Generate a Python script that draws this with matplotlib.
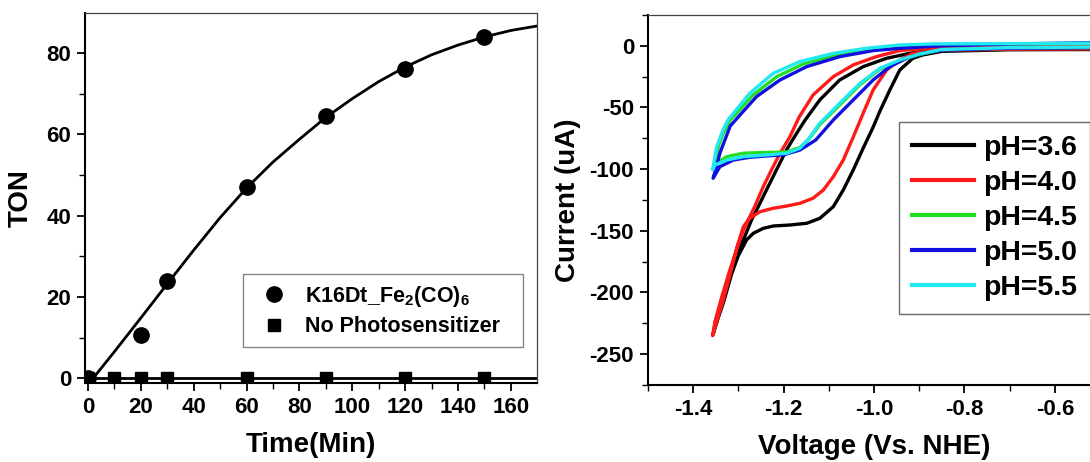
import matplotlib
matplotlib.use("Agg")
import matplotlib.pyplot as plt
from matplotlib.ticker import MultipleLocator

plt.rcParams['font.family'] = ['Liberation Sans', 'DejaVu Sans']
plt.rcParams['font.weight'] = 'bold'
plt.rcParams['axes.unicode_minus'] = False
plt.rcParams['mathtext.fontset'] = 'custom'
plt.rcParams['mathtext.rm'] = 'Liberation Sans:bold'
plt.rcParams['mathtext.bf'] = 'Liberation Sans:bold'
plt.rcParams['mathtext.default'] = 'bf'

# TON vs irradiation time
time_pts = [0, 20, 30, 60, 90, 120, 150]
ton_pts = [0, 10.5, 24, 47, 64.5, 76, 84]
time_ctrl = [0, 10, 20, 30, 60, 90, 120, 150]
ton_ctrl = [0, 0, 0, 0, 0, 0, 0, 0]
# fitted curve, read every 10 min
fit_time = [2, 10, 20, 30, 40, 50, 60, 70, 80, 90, 100, 110, 120, 130, 140, 150, 160, 170]
fit_ton = [0, 6.5, 14.8, 23.2, 31.5, 39.5, 46.8, 53.2, 58.8, 64.2, 68.8, 73.0, 76.6, 79.6, 82.0, 84.0, 85.6, 86.7]
ctrl_fit_time = [0, 170]
ctrl_fit_ton = [0, 0]

# cyclic voltammograms: forward (lower) branch then return (upper) branch
v_36 = [-0.50, -0.70, -0.85, -0.892, -0.914, -0.943, -0.965, -0.987, -1.002, -1.024, -1.046, -1.068,
        -1.090, -1.120, -1.149, -1.186, -1.223, -1.245, -1.267, -1.282, -1.300, -1.315, -1.333, -1.345, -1.356,
        -1.350, -1.335, -1.318, -1.300, -1.286, -1.271, -1.256, -1.238, -1.216, -1.193, -1.173, -1.153,
        -1.120, -1.076, -1.024, -0.972, -0.921, -0.884, -0.80, -0.50]
i_36 = [-3.0, -3.2, -4.5, -7.4, -10.1, -19.6, -35.8, -53.0, -66.0, -83.0, -100.7, -116.9,
        -130.4, -139.9, -143.9, -145.3, -146.1, -148.0, -152.0, -157.4, -170, -185, -208, -221, -234,
        -222, -205, -185, -166, -154.7, -141.2, -130.4, -116.9, -100.7, -84.0, -72.0, -60.5,
        -43.9, -27.7, -16.9, -10.1, -6.1, -3.9, -2.0, -1.0]

v_40 = [-0.50, -0.70, -0.85, -0.914, -0.943, -0.972, -1.002, -1.024, -1.046, -1.068, -1.090, -1.112,
        -1.135, -1.164, -1.193, -1.223, -1.252, -1.275, -1.289, -1.303, -1.318, -1.335, -1.346, -1.357,
        -1.352, -1.338, -1.320, -1.297, -1.282, -1.264, -1.245, -1.227, -1.208, -1.186, -1.166, -1.135,
        -1.090, -1.046, -0.995, -0.943, -0.884, -0.80, -0.50]
i_40 = [-2.5, -2.8, -3.5, -6.1, -11.5, -19.6, -35.8, -54.7, -74.0, -92.6, -106.1, -116.9,
        -123.6, -127.7, -129.9, -131.7, -134.5, -139.9, -146.6, -163, -185, -208, -221, -235,
        -224, -205, -183, -157.4, -143.9, -130.4, -114.2, -100.7, -87.1, -73.7, -58.0, -39.9,
        -25.0, -15.5, -8.8, -3.9, -2.0, -1.0, -0.5]

v_45 = [-0.50, -0.70, -0.85, -0.899, -0.943, -0.987, -1.031, -1.076, -1.120, -1.145, -1.164, -1.193,
        -1.216, -1.252, -1.289, -1.326, -1.348, -1.353,
        -1.350, -1.343, -1.335, -1.318, -1.305, -1.268, -1.215, -1.157, -1.083, -1.010, -0.943,
        -0.85, -0.70, -0.50]
i_45 = [-1.5, -2.0, -3.2, -7.0, -12.0, -19.0, -31.5, -48.0, -64.0, -76.0, -82.5, -86.0,
        -86.3, -86.6, -87.1, -89.9, -95.2, -98.0,
        -90.0, -80.0, -72.0, -60.0, -55.0, -40.0, -25.0, -14.8, -7.5, -3.0, -0.5,
        1.0, 1.5, 2.0]

v_50 = [-0.50, -0.70, -0.85, -0.892, -0.928, -0.965, -1.002, -1.046, -1.090, -1.129, -1.164, -1.201,
        -1.238, -1.275, -1.311, -1.341, -1.356,
        -1.350, -1.341, -1.330, -1.318, -1.300, -1.260, -1.208, -1.149, -1.076, -1.002, -0.943,
        -0.85, -0.70, -0.50]
i_50 = [-1.5, -2.0, -3.5, -6.1, -10.1, -16.9, -27.7, -43.9, -60.1, -76.4, -84.5, -88.5,
        -89.3, -90.4, -92.6, -98.0, -107.4,
        -100.0, -87.1, -76.4, -65.0, -57.5, -41.2, -27.7, -16.9, -8.8, -3.9, -2.0,
        0.0, 1.5, 2.5]

v_55 = [-0.50, -0.70, -0.85, -0.899, -0.943, -0.987, -1.031, -1.076, -1.120, -1.145, -1.164, -1.193,
        -1.238, -1.289, -1.326, -1.352, -1.357,
        -1.353, -1.348, -1.341, -1.334, -1.323, -1.311, -1.275, -1.223, -1.164, -1.090, -1.017, -0.943,
        -0.869, -0.70, -0.50]
i_55 = [-1.0, -1.5, -3.0, -6.6, -11.5, -18.2, -30.4, -46.6, -62.8, -75.5, -83.1, -87.1,
        -88.5, -89.9, -92.6, -96.6, -100.5,
        -92.0, -81.8, -75.0, -68.2, -60.1, -54.7, -38.5, -22.3, -12.8, -6.1, -2.0, 0.7,
        1.5, 1.8, 2.0]

ph_labels = ['pH=3.6', 'pH=4.0', 'pH=4.5', 'pH=5.0', 'pH=5.5']
ph_colors = ['black', '#ff1a1a', '#22dd22', '#1010e0', '#22e8f0']

fig = plt.figure(figsize=(10.9, 4.62), dpi=100)

# ---- left: TON vs time ----
ax1 = fig.add_axes([0.078, 0.171, 0.4147, 0.8009])
ax1.plot(fit_time, fit_ton, color='black', lw=2)
ax1.plot(ctrl_fit_time, ctrl_fit_ton, color='black', lw=2)
ax1.plot(time_pts, ton_pts, 'o', color='black', ms=11, label='K16Dt_Fe$_2$(CO)$_6$')
ax1.plot(time_ctrl, ton_ctrl, 's', color='black', ms=8.5, label='No Photosensitizer')
ax1.set_xlim(-1.1, 169.9)
ax1.set_ylim(-1.2, 89.9)
ax1.xaxis.set_major_locator(MultipleLocator(20))
ax1.xaxis.set_minor_locator(MultipleLocator(10))
ax1.yaxis.set_major_locator(MultipleLocator(20))
ax1.yaxis.set_minor_locator(MultipleLocator(10))
ax1.set_xlabel('Time(Min)', fontsize=20, fontweight='bold', labelpad=10)
ax1.set_ylabel('TON', fontsize=20, fontweight='bold', labelpad=9)
# legend box stretched to the width used in the figure
leg1 = ax1.legend(loc='upper left', bbox_to_anchor=(0.35, 0.0, 0.6195, 0.2946), mode='expand',
                  fontsize=15.5, frameon=True, fancybox=False, edgecolor='#666666',
                  borderaxespad=0, handletextpad=0.4, labelspacing=0.35, borderpad=0.45)
leg1.get_frame().set_linewidth(1.0)

# ---- right: CV at different pH ----
ax2 = fig.add_axes([0.5945, 0.1667, 0.4147, 0.8009])
cv_v = [v_36, v_40, v_45, v_50, v_55]
cv_i = [i_36, i_40, i_45, i_50, i_55]
for v, i, lab, col in zip(cv_v, cv_i, ph_labels, ph_colors):
    ax2.plot(v, i, color=col, lw=2.4, label=lab)
ax2.set_xlim(-1.5, -0.5)
ax2.set_ylim(-275, 25)
ax2.xaxis.set_major_locator(MultipleLocator(0.2))
ax2.xaxis.set_minor_locator(MultipleLocator(0.1))
ax2.yaxis.set_major_locator(MultipleLocator(50))
ax2.yaxis.set_minor_locator(MultipleLocator(25))
ax2.set_xlabel('Voltage (Vs. NHE)', fontsize=20, fontweight='bold', labelpad=10)
ax2.set_ylabel('Current (uA)', fontsize=20, fontweight='bold', labelpad=6)
leg2 = ax2.legend(loc='upper left', bbox_to_anchor=(0.555, 0.711), fontsize=20.5,
                  frameon=True, fancybox=False, edgecolor='#444444', borderaxespad=0,
                  handlelength=2.2, handletextpad=0.3, labelspacing=0.32, borderpad=0.45)
leg2.get_frame().set_linewidth(1.0)
for line in leg2.get_lines():
    line.set_linewidth(3)

for ax in (ax1, ax2):
    ax.tick_params(which='major', direction='out', length=6, width=1.3, labelsize=16, pad=4)
    ax.tick_params(which='minor', direction='out', length=4, width=1.0)
    for lbl in ax.get_xticklabels() + ax.get_yticklabels():
        lbl.set_fontweight('bold')
    ax.spines['left'].set_linewidth(1.5)
    ax.spines['bottom'].set_linewidth(1.5)
    ax.spines['top'].set_linewidth(0.9)
    ax.spines['right'].set_linewidth(0.9)
    ax.spines['top'].set_color('#444444')
    ax.spines['right'].set_color('#444444')

fig.savefig('out.png', dpi=100)
